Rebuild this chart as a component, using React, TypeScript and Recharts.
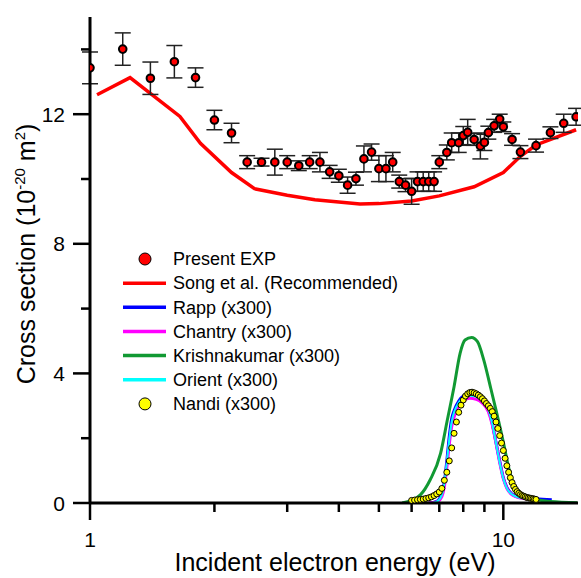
import React from 'react';
import { ComposedChart, Line, Scatter, XAxis, YAxis, ErrorBar, Legend } from 'recharts';

// Present EXP
const expEnergy = [1.0, 1.2, 1.4, 1.6, 1.8, 2.0, 2.2, 2.4, 2.6, 2.8, 3.0, 3.2, 3.4, 3.6, 3.8, 4.0, 4.2, 4.4, 4.6, 4.8, 5.0, 5.2, 5.4, 5.6, 5.8, 6.0, 6.2, 6.4, 6.6, 6.8, 7.0, 7.3, 7.5, 7.8, 8.0, 8.2, 8.5, 8.8, 9.0, 9.2, 9.5, 9.8, 10.0, 10.5, 11.0, 12.0, 13.0, 14.0, 15.0];
const expSigma = [13.43, 14.01, 13.11, 13.62, 13.13, 11.82, 11.42, 10.52, 10.52, 10.52, 10.52, 10.41, 10.52, 10.52, 10.22, 10.1, 9.81, 10.01, 10.62, 10.83, 10.32, 10.32, 10.52, 9.92, 9.81, 9.62, 9.92, 9.92, 9.92, 9.92, 10.52, 10.82, 11.12, 11.12, 11.34, 11.44, 11.22, 11.02, 11.13, 11.43, 11.64, 11.85, 11.61, 11.22, 10.83, 11.03, 11.43, 11.72, 11.92];
const expError = [0.49, 0.5, 0.5, 0.5, 0.3, 0.3, 0.3, 0.2, 0.12, 0.4, 0.2, 0.15, 0.2, 0.3, 0.2, 0.2, 0.25, 0.2, 0.4, 0.25, 0.4, 0.4, 0.3, 0.2, 0.2, 0.4, 0.3, 0.3, 0.3, 0.3, 0.2, 0.23, 0.3, 0.3, 0.28, 0.4, 0.18, 0.4, 0.25, 0.2, 0.2, 0.15, 0.15, 0.18, 0.2, 0.2, 0.18, 0.28, 0.26];

// Song et al. (Recommended)
const songEnergy = [1.04, 1.25, 1.65, 1.85, 2.2, 2.5, 3.0, 3.5, 4.5, 5.0, 6.0, 7.0, 8.5, 10.0, 11.0, 12.0, 15.0];
const songSigma = [12.6, 13.13, 11.93, 11.1, 10.2, 9.7, 9.5, 9.36, 9.23, 9.24, 9.32, 9.48, 9.76, 10.2, 10.7, 11.05, 11.52];

// Rapp (x300)
const rappEnergy = [6.6, 6.9, 7.1, 7.2, 7.3, 7.4, 7.5, 7.6, 7.8, 8.0, 8.3, 8.6, 8.9, 9.2, 9.4, 9.6, 9.8, 10.0, 10.2, 10.5, 11.0, 12.0, 13.1];
const rappSigma = [0, 0.05, 0.3, 0.65, 1.3, 2.05, 2.6, 2.85, 3.15, 3.3, 3.36, 3.32, 3.18, 2.9, 2.46, 1.87, 1.3, 0.78, 0.48, 0.27, 0.17, 0.13, 0.1];

// Chantry (x300)
const chantryEnergy = [6.6, 6.9, 7.1, 7.2, 7.3, 7.4, 7.5, 7.6, 7.8, 8.0, 8.3, 8.6, 8.9, 9.2, 9.4, 9.6, 9.8, 10.0, 10.2, 10.5, 11.0, 11.5];
const chantrySigma = [0, 0.03, 0.2, 0.5, 1.1, 1.8, 2.35, 2.65, 2.98, 3.15, 3.23, 3.2, 3.08, 2.82, 2.42, 1.85, 1.25, 0.75, 0.45, 0.25, 0.15, 0.12];

// Krishnakumar (x300)
const krishEnergy = [5.69, 6.0, 6.3, 6.65, 7.05, 7.32, 7.6, 7.86, 8.08, 8.38, 8.66, 8.97, 9.3, 9.65, 10.0, 10.3, 10.57, 11.0, 11.5, 12.1, 13.0, 15.1];
const krishSigma = [0, 0.08, 0.25, 0.71, 1.53, 2.56, 3.59, 4.62, 5.03, 5.11, 4.98, 4.41, 3.6, 2.75, 1.88, 1.1, 0.6, 0.3, 0.15, 0.09, 0.05, 0.01];

// Orient (x300)
const orientEnergy = [6.7, 6.9, 7.1, 7.2, 7.3, 7.4, 7.5, 7.6, 7.8, 8.0, 8.3, 8.6, 8.9, 9.2, 9.4, 9.6, 9.8, 10.0, 10.2, 10.5, 11.0, 11.5];
const orientSigma = [0, 0.04, 0.25, 0.6, 1.25, 1.95, 2.5, 2.8, 3.1, 3.25, 3.31, 3.28, 3.15, 2.88, 2.45, 1.85, 1.25, 0.75, 0.45, 0.26, 0.16, 0.12];

// Nandi (x300)
const nandiEnergy = [6.0, 6.1, 6.2, 6.3, 6.4, 6.5, 6.6, 6.7, 6.8, 6.9, 7.0, 7.1, 7.2, 7.3, 7.4, 7.5, 7.6, 7.7, 7.8, 7.9, 8.0, 8.1, 8.2, 8.3, 8.4, 8.5, 8.6, 8.7, 8.8, 8.9, 9.0, 9.1, 9.2, 9.3, 9.4, 9.5, 9.6, 9.7, 9.8, 9.9, 10.0, 10.1, 10.2, 10.3, 10.4, 10.5, 10.6, 10.7, 10.8, 10.9, 11.0, 11.1, 11.2, 11.3, 11.4, 11.5, 11.6, 11.7, 11.8, 11.9, 12.0];
const nandiSigma = [0.08, 0.09, 0.1, 0.11, 0.12, 0.14, 0.16, 0.19, 0.23, 0.28, 0.34, 0.45, 0.7, 0.95, 1.3, 1.7, 2.15, 2.5, 2.8, 3.02, 3.18, 3.3, 3.37, 3.41, 3.42, 3.4, 3.37, 3.33, 3.28, 3.22, 3.15, 3.07, 3.0, 2.92, 2.82, 2.68, 2.5, 2.3, 2.08, 1.85, 1.62, 1.38, 1.15, 0.95, 0.78, 0.63, 0.51, 0.42, 0.35, 0.3, 0.26, 0.23, 0.21, 0.19, 0.17, 0.16, 0.15, 0.14, 0.13, 0.12, 0.11];

const xTicks = [1, 2, 3, 4, 5, 6, 7, 8, 9, 10];
const xTickLabels = [1, 10];
const yTicks = [0, 2, 4, 6, 8, 10, 12, 14];
const yTickLabels = [0, 4, 8, 12];

const pairs = (xs: number[], ys: number[]) => xs.map((x, i) => ({ x, y: ys[i] }));
const expData = expEnergy.map((x, i) => ({ x, y: expSigma[i], err: expError[i] }));
const songData = pairs(songEnergy, songSigma);
const rappData = pairs(rappEnergy, rappSigma);
const chantryData = pairs(chantryEnergy, chantrySigma);
const krishData = pairs(krishEnergy, krishSigma);
const orientData = pairs(orientEnergy, orientSigma);
const nandiData = pairs(nandiEnergy, nandiSigma);

const FONT = '"Liberation Sans", Arial, sans-serif';

const XTick = (props: any) => {
  const { x, y, payload } = props;
  const v = payload.value;
  const major = xTickLabels.includes(v);
  return (
    <g>
      <line x1={x} y1={y} x2={x} y2={y + (major ? 17 : 9)} stroke="#000" strokeWidth={2.5} />
      {major && (
        <text x={x} y={y + 44} textAnchor="middle" fontSize={21} fontFamily={FONT} fill="#000">
          {v}
        </text>
      )}
    </g>
  );
};

const YTick = (props: any) => {
  const { x, y, payload } = props;
  const v = payload.value;
  const major = yTickLabels.includes(v);
  return (
    <g>
      <line x1={x - (major ? 17 : 9)} y1={y} x2={x} y2={y} stroke="#000" strokeWidth={2.5} />
      {major && (
        <text x={x - 25} y={y + 7.5} textAnchor="end" fontSize={21} fontFamily={FONT} fill="#000">
          {v}
        </text>
      )}
    </g>
  );
};

const legendItems = [
  { name: 'Present EXP', kind: 'dot', color: '#ff0000' },
  { name: 'Song et al. (Recommended)', kind: 'line', color: '#ff0000' },
  { name: 'Rapp (x300)', kind: 'line', color: '#0000ff' },
  { name: 'Chantry (x300)', kind: 'line', color: '#ff00ff' },
  { name: 'Krishnakumar (x300)', kind: 'line', color: '#119933' },
  { name: 'Orient (x300)', kind: 'line', color: '#00ffff' },
  { name: 'Nandi (x300)', kind: 'dot', color: '#ffff00' },
];

const LegendContent = () => (
  <svg width={300} height={175} style={{ display: 'block' }}>
    {legendItems.map((it, i) => {
      const cy = 14 + i * 24.15;
      return (
        <g key={it.name}>
          {it.kind === 'line' ? (
            <line x1={13} y1={cy} x2={56} y2={cy} stroke={it.color} strokeWidth={3.5} />
          ) : (
            <circle cx={35} cy={cy} r={6} fill={it.color} stroke="#000" strokeWidth={1} />
          )}
          <text x={63} y={cy + 6.3} fontSize={18} fontFamily={FONT} fill="#000">
            {it.name}
          </text>
        </g>
      );
    })}
  </svg>
);

const ExpDot = (p: any) => <circle cx={p.cx} cy={p.cy} r={3.8} fill="#ff0000" stroke="#000" strokeWidth={2} />;
const NandiDot = (p: any) => <circle cx={p.cx} cy={p.cy} r={3} fill="#ffff00" stroke="#000" strokeWidth={1} />;
const NoDot = () => <g />;

export default function App() {
  return (
    <div style={{ position: 'absolute', left: 0, top: 0, background: '#fff' }}>
      <ComposedChart width={581} height={578} margin={{ top: 17, right: 3, bottom: 0, left: 0 }}>
        <XAxis
          dataKey="x"
          type="number"
          scale="log"
          domain={[1, 15.16]}
          allowDataOverflow
          ticks={xTicks}
          interval={0}
          tickSize={0}
          tickMargin={0}
          tickLine={false}
          tick={<XTick />}
          height={75}
          axisLine={{ stroke: '#000', strokeWidth: 3 }}
          label={{
            content: () => (
              <text x={335} y={571} textAnchor="middle" fontSize={25} fontFamily={FONT} fill="#000">
                Incident electron energy (eV)
              </text>
            ),
          }}
        />
        <YAxis
          dataKey="y"
          type="number"
          domain={[0, 15]}
          allowDataOverflow
          ticks={yTicks}
          interval={0}
          tickSize={0}
          tickMargin={0}
          tickLine={false}
          tick={<YTick />}
          width={90}
          axisLine={{ stroke: '#000', strokeWidth: 3 }}
          label={{
            content: () => (
              <text
                x={0}
                y={0}
                transform="translate(35, 254) rotate(-90)"
                textAnchor="middle"
                fontSize={25}
                fontFamily={FONT}
                fill="#000"
              >
                Cross section (10
                <tspan fontSize={15} dy={-10}>-20</tspan>
                <tspan dy={10}> m</tspan>
                <tspan fontSize={15} dy={-10}>2</tspan>
                <tspan dy={10}>)</tspan>
              </text>
            ),
          }}
        />
        <Legend
          content={<LegendContent />}
          layout="horizontal"
          verticalAlign="middle"
          align="center"
          wrapperStyle={{ left: 110, top: 245, width: 300, height: 175 }}
        />
        <Line data={songData} dataKey="y" type="linear" stroke="#ff0000" strokeWidth={3.5} dot={false} isAnimationActive={false} />
        <Scatter data={expData} dataKey="y" shape={<ExpDot />} isAnimationActive={false} />
        <Scatter data={expData} dataKey="y" shape={<NoDot />} isAnimationActive={false}>
          <ErrorBar dataKey="err" direction="y" width={8} stroke="#222" strokeWidth={1.5} isAnimationActive={false} />
        </Scatter>
        <Line data={rappData} dataKey="y" type="monotone" stroke="#0000ff" strokeWidth={3} dot={false} isAnimationActive={false} />
        <Line data={chantryData} dataKey="y" type="monotone" stroke="#ff00ff" strokeWidth={3} dot={false} isAnimationActive={false} />
        <Line data={krishData} dataKey="y" type="monotone" stroke="#119933" strokeWidth={3} dot={false} isAnimationActive={false} />
        <Line data={orientData} dataKey="y" type="monotone" stroke="#00ffff" strokeWidth={2} dot={false} isAnimationActive={false} />
        <Scatter data={nandiData} dataKey="y" shape={<NandiDot />} isAnimationActive={false} />
      </ComposedChart>
    </div>
  );
}
